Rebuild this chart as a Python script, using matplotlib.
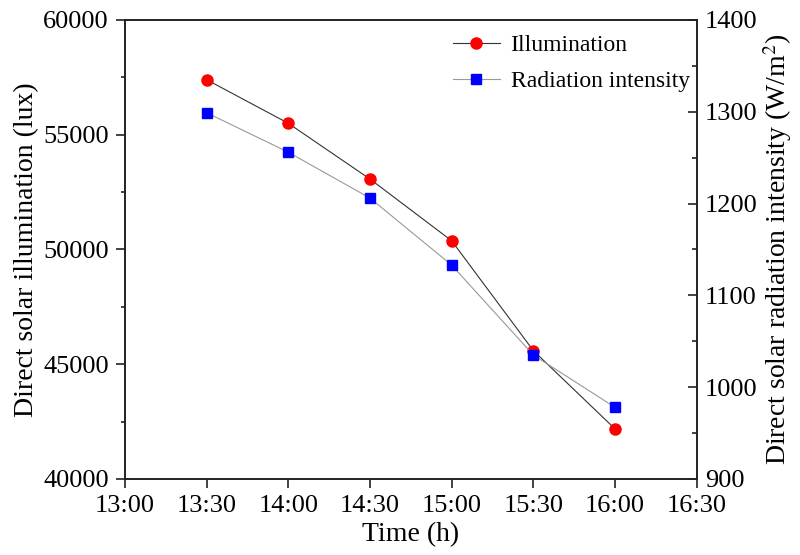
import matplotlib
matplotlib.use("Agg")
import matplotlib.pyplot as plt
from matplotlib.ticker import MultipleLocator

# Measurements every half hour
times = [13.5, 14.0, 14.5, 15.0, 15.5, 16.0]
illumination = [57400, 55500, 53070, 50380, 45590, 42180]      # lux
radiation = [1299, 1256, 1206, 1133, 1035, 978]                # W/m2

x_ticks = [13.0, 13.5, 14.0, 14.5, 15.0, 15.5, 16.0, 16.5]
x_tick_labels = ["13:00", "13:30", "14:00", "14:30", "15:00", "15:30", "16:00", "16:30"]

plt.rcParams["font.family"] = ["Liberation Serif", "DejaVu Serif"]
plt.rcParams["mathtext.fontset"] = "stix"

fig = plt.figure(figsize=(8.0, 5.55), dpi=100)
ax = fig.add_axes([0.156, 0.137, 0.715, 0.827])
ax2 = ax.twinx()

l1, = ax.plot(times, illumination, color="#333333", lw=0.8, marker="o",
              markersize=8, markerfacecolor="red", markeredgecolor="red",
              label="Illumination", zorder=3)
l2, = ax2.plot(times, radiation, color="#999999", lw=0.8, marker="s",
               markersize=7, markerfacecolor="blue", markeredgecolor="blue",
               label="Radiation intensity", zorder=3)

ax.set_xlim(13.0, 16.5)
ax.set_xticks(x_ticks)
ax.set_xticklabels(x_tick_labels)
ax.set_ylim(40000, 60000)
ax.yaxis.set_major_locator(MultipleLocator(5000))
ax.yaxis.set_minor_locator(MultipleLocator(2500))
ax2.set_ylim(900, 1400)
ax2.yaxis.set_major_locator(MultipleLocator(100))
ax2.yaxis.set_minor_locator(MultipleLocator(50))

tick_col = "#222222"
ax.tick_params(which="major", direction="out", length=6.5, width=1.2,
               labelsize=19, color=tick_col, pad=5)
ax.tick_params(which="minor", direction="out", length=3, width=1.2, color=tick_col)
ax2.tick_params(which="major", direction="in", length=6.5, width=1.2,
                labelsize=19, color=tick_col, pad=6)
ax2.tick_params(which="minor", direction="in", length=3.5, width=1.2, color=tick_col)
for a in (ax, ax2):
    for spine in a.spines.values():
        spine.set_linewidth(1.2)
        spine.set_edgecolor(tick_col)

ax.set_xlabel("Time (h)", fontsize=20, labelpad=4)
ax.set_ylabel("Direct solar illumination (lux)", fontsize=20, labelpad=3)
ax2.set_ylabel(r"Direct solar radiation intensity (W/m$^2$)", fontsize=20, labelpad=2)

ax.legend([l1, l2], ["Illumination", "Radiation intensity"], loc="upper right",
          bbox_to_anchor=(1.0, 0.983), frameon=False, fontsize=17,
          handlelength=2.0, handletextpad=0.45, borderaxespad=0,
          borderpad=0.3, labelspacing=0.6)

fig.savefig("out.png", dpi=100)
